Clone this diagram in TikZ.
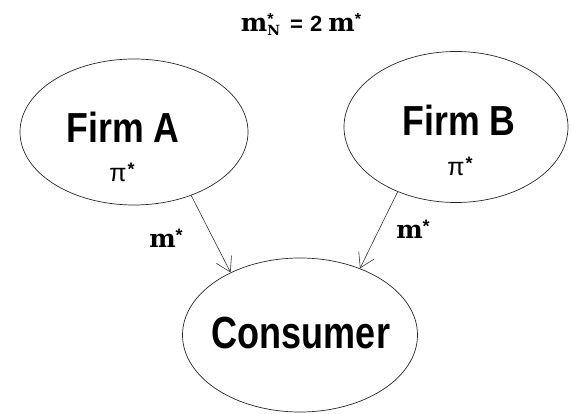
\documentclass[tikz,border=0pt]{standalone}
\usepackage{fontspec}
\usepackage{graphicx}
\setmainfont{Liberation Sans}
\newfontfamily\mfont{DejaVu Serif}
\newcommand\upstar[1]{\raisebox{#1}{\fontspec{Liberation Sans}\bfseries *}}
\usetikzlibrary{shapes.geometric,arrows.meta}
\begin{document}
\begin{tikzpicture}[x=1pt,y=-1pt,
  oval/.style={draw=black!85,line width=0.7pt,ellipse,inner sep=0pt},
  bigtext/.style={font=\fontsize{42}{42}\selectfont\bfseries,inner sep=0pt},
  pitext/.style={font=\fontsize{25}{25}\selectfont,inner sep=0pt},
  mtext/.style={font=\fontsize{25}{25}\selectfont\mfont\bfseries,inner sep=0pt},
  flow/.style={draw=black!80,line width=0.6pt,-{Straight Barb[length=14pt,width=17pt,line width=0.6pt]}}]
\useasboundingbox (0,0) rectangle (571,414);
\node[oval,minimum width=228pt,minimum height=146pt] (A) at (134,132) {};
\node[oval,minimum width=224pt,minimum height=151pt] (B) at (456,127) {};
\node[oval,minimum width=235pt,minimum height=154pt] (C) at (300,335) {};
\node[bigtext] (tA) at (123,127) {\scalebox{0.85}[1]{Firm A}};
\node[bigtext] (tB) at (459,120) {\scalebox{0.85}[1]{Firm B}};
\node[bigtext,font=\fontsize{45}{45}\selectfont\bfseries] (tC) at (301,333) {\scalebox{0.8}[1]{Consumer}};
\node[pitext] (pA) at (122,172) {π\kern1pt{\fontsize{18}{18}\selectfont\upstar{6pt}}};
\node[pitext] (pB) at (460,166) {π\kern1pt{\fontsize{18}{18}\selectfont\upstar{6pt}}};
\node[mtext] (mA) at (166,238) {m{\fontsize{18}{18}\selectfont\upstar{6pt}}};
\node[mtext] (mB) at (413,229) {m{\fontsize{18}{18}\selectfont\upstar{6pt}}};
\node[mtext] (title) at (301,24) {m\rlap{\fontsize{16}{16}\selectfont\upstar{7pt}}\raisebox{-4pt}{\fontsize{14}{14}\selectfont N}\hspace{10pt}{\fontsize{22}{22}\selectfont\fontspec{Liberation Sans}\bfseries =\hspace{7pt}2\hspace{6pt}}m{\fontsize{16}{16}\selectfont\upstar{7pt}}};
\draw[flow] (A.-48.5) -- (C.138);
\draw[flow] (B.228) -- (C.48.7);
\end{tikzpicture}
\end{document}
